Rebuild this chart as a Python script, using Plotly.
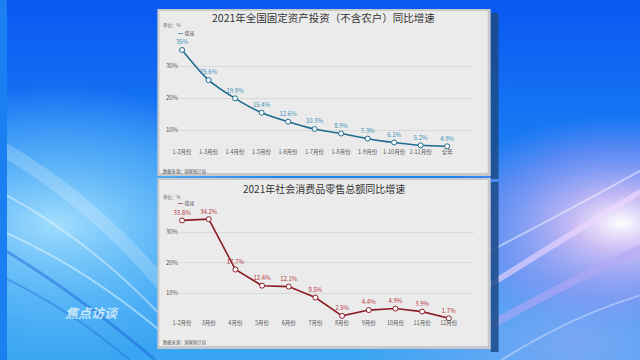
import base64
import plotly.graph_objects as go

# ---------------- data ----------------
inv_categories = ["1-2月份", "1-3月份", "1-4月份", "1-5月份", "1-6月份", "1-7月份",
                  "1-8月份", "1-9月份", "1-10月份", "1-11月份", "全年"]
inv_values = [35, 25.6, 19.9, 15.4, 12.6, 10.3, 8.9, 7.3, 6.1, 5.2, 4.9]

retail_categories = ["1-2月份", "3月份", "4月份", "5月份", "6月份", "7月份",
                     "8月份", "9月份", "10月份", "11月份", "12月份"]
retail_values = [33.8, 34.2, 17.7, 12.4, 12.1, 8.5, 2.5, 4.4, 4.9, 3.9, 1.7]

y_tick_values = [10, 20, 30]
y_tick_labels = ["10%", "20%", "30%"]

title_top = "2021年全国固定资产投资（不含农户）同比增速"
title_bottom = "2021年社会消费品零售总额同比增速"
series_name = "增速"
unit_text = "单位：%"
source_text = "数据来源：国家统计局"

W, H = 640, 360
FONT = "Noto Sans CJK SC, Noto Sans, sans-serif"
BLUE_LINE = "#1b6b8e"
BLUE_TEXT = "#3b91bb"
RED_LINE = "#8c1c25"
RED_TEXT = "#b8343c"


def px(x):
    return x / W


def py(y):
    return 1 - y / H


# ---------------- background (decorative) ----------------
svg = f"""<svg xmlns='http://www.w3.org/2000/svg' width='{W}' height='{H}' viewBox='0 0 {W} {H}'>
<defs>
<linearGradient id='g' x1='0' y1='0' x2='0' y2='1'>
<stop offset='0' stop-color='#0a58f2'/>
<stop offset='0.45' stop-color='#1a80f4'/>
<stop offset='1' stop-color='#3aa6f2'/>
</linearGradient>
<radialGradient id='c' cx='0.08' cy='0.62' r='0.38'>
<stop offset='0' stop-color='#b8ecff' stop-opacity='0.85'/>
<stop offset='0.6' stop-color='#7fd2fa' stop-opacity='0.45'/>
<stop offset='1' stop-color='#7fd2fa' stop-opacity='0'/>
</radialGradient>
<radialGradient id='p' cx='0.97' cy='0.62' r='0.3'>
<stop offset='0' stop-color='#ffffff' stop-opacity='1'/>
<stop offset='0.25' stop-color='#f0c8f5' stop-opacity='0.8'/>
<stop offset='0.7' stop-color='#a596f2' stop-opacity='0.45'/>
<stop offset='1' stop-color='#8c8cf0' stop-opacity='0'/>
</radialGradient>
<radialGradient id='q' cx='0.9' cy='0.95' r='0.35'>
<stop offset='0' stop-color='#8aa8f5' stop-opacity='0.8'/>
<stop offset='1' stop-color='#8aa8f5' stop-opacity='0'/>
</radialGradient>
</defs>
<rect width='{W}' height='{H}' fill='url(#g)'/>
<rect width='{W}' height='{H}' fill='url(#c)'/>
<rect width='{W}' height='{H}' fill='url(#q)'/>
<rect width='{W}' height='{H}' fill='url(#p)'/>
<path d='M -20 140 Q 90 200 170 300' stroke='#ffffff' stroke-opacity='0.2' stroke-width='14' fill='none'/>
<path d='M -20 185 Q 80 235 160 320' stroke='#ffffff' stroke-opacity='0.4' stroke-width='2' fill='none'/>
<path d='M -20 225 Q 70 260 160 335' stroke='#e8fbff' stroke-opacity='0.5' stroke-width='2' fill='none'/>
<path d='M -20 240 Q 60 285 150 360' stroke='#1a62d8' stroke-opacity='0.45' stroke-width='3' fill='none'/>
<path d='M -20 270 Q 60 305 130 365' stroke='#1a62d8' stroke-opacity='0.35' stroke-width='2' fill='none'/>
<path d='M 480 290 Q 560 240 660 180' stroke='#f2d8ff' stroke-opacity='0.6' stroke-width='6' fill='none'/>
<path d='M 480 255 Q 560 215 660 160' stroke='#ffffff' stroke-opacity='0.45' stroke-width='2' fill='none'/>
<path d='M 480 330 Q 570 280 660 240' stroke='#b7a8f5' stroke-opacity='0.55' stroke-width='8' fill='none'/>
<path d='M 500 360 Q 580 310 660 290' stroke='#cfe0ff' stroke-opacity='0.5' stroke-width='2' fill='none'/>
</svg>"""
bg_src = "data:image/svg+xml;base64," + base64.b64encode(svg.encode("utf-8")).decode("ascii")

fig = go.Figure()

# ---------------- traces ----------------
fig.add_trace(go.Scatter(
    x=inv_categories, y=inv_values, xaxis="x", yaxis="y",
    mode="lines+markers+text", name=series_name,
    line=dict(color=BLUE_LINE, width=1.5, shape="spline", smoothing=0.8),
    marker=dict(symbol="circle", size=5, color="#ffffff", line=dict(color=BLUE_LINE, width=1)),
    text=[f"{v:g}%" for v in inv_values], textposition="top center",
    textfont=dict(size=6, color=BLUE_TEXT, family=FONT),
    cliponaxis=False, showlegend=False, hoverinfo="skip",
))
fig.add_trace(go.Scatter(
    x=retail_categories, y=retail_values, xaxis="x2", yaxis="y2",
    mode="lines+markers+text", name=series_name,
    line=dict(color=RED_LINE, width=1.6),
    marker=dict(symbol="circle", size=5, color="#ffffff", line=dict(color=RED_LINE, width=1)),
    text=[f"{v:g}%" for v in retail_values], textposition="top center",
    textfont=dict(size=6, color=RED_TEXT, family=FONT),
    cliponaxis=False, showlegend=False, hoverinfo="skip",
))

# ---------------- axes ----------------
common_x = dict(type="category", showline=False, showgrid=False, zeroline=False, ticks="",
                tickfont=dict(size=5.5, color="#555555", family=FONT), fixedrange=True)
common_y = dict(showline=False, showgrid=True, gridcolor="#d9d9d9", gridwidth=0.8, zeroline=False,
                ticks="", tickvals=y_tick_values, ticktext=y_tick_labels,
                tickfont=dict(size=6, color="#555555", family=FONT), fixedrange=True)

xdom = [px(174), px(472)]
top_min, bot_min = 4.5, 1.3
fig.update_layout(
    xaxis=dict(common_x, domain=xdom, range=[-0.112, 11.007], anchor="y"),
    yaxis=dict(common_y, domain=[py(162 - 3.2 * top_min), py(40)],
               range=[top_min, (162 - 40) / 3.2], anchor="x"),
    xaxis2=dict(common_x, domain=xdom, range=[-0.111, 10.94], anchor="y2", ticklabelstandoff=-1),
    yaxis2=dict(common_y, domain=[py(323.5 - 3.05 * bot_min), py(210)],
                range=[bot_min, (323.5 - 210) / 3.05], anchor="x2"),
)

# ---------------- panels ----------------
shapes = []
for (y0, y1) in [(9, 176), (178, 349)]:
    shapes.append(dict(type="rect", xref="paper", yref="paper", layer="below",
                       x0=px(489), x1=px(497), y0=py(y0 + 4), y1=py(y1 + 3),
                       fillcolor="#1d4a86", opacity=0.85, line=dict(width=0)))
    shapes.append(dict(type="rect", xref="paper", yref="paper", layer="below",
                       x0=px(152), x1=px(489), y0=py(y0), y1=py(y1),
                       fillcolor="#c6c8cc", line=dict(width=0)))
    shapes.append(dict(type="rect", xref="paper", yref="paper", layer="below",
                       x0=px(154), x1=px(486), y0=py(y0 + 2), y1=py(y1 - 3),
                       fillcolor="#ebebeb", line=dict(width=0)))

# ---------------- annotations ----------------
ann = []


def text_ann(x, y, s, size, color, xanchor="left", **kw):
    ann.append(dict(xref="paper", yref="paper", x=px(x), y=py(y), text=s, showarrow=False,
                    xanchor=xanchor, yanchor="middle",
                    font=dict(size=size, color=color, family=FONT), **kw))


text_ann(320, 17, title_top, 10.5, "#333333", xanchor="center")
text_ann(320, 188, title_bottom, 10, "#333333", xanchor="center")
for (yu, yl, ys, col) in [(26, 32.5, 171.3, BLUE_LINE), (197, 203, 342.3, RED_LINE)]:
    text_ann(155.5, yu, unit_text, 4.5, "#666666")
    text_ann(171, yl, f"<span style='color:{col}'>━</span> {series_name}", 5, "#666666")
    text_ann(155.5, ys, source_text, 4.3, "#555555")

# logo text
ann.append(dict(xref="paper", yref="paper", x=px(86), y=py(312), text="<i><b>焦点访谈</b></i>",
                showarrow=False, xanchor="center", yanchor="middle",
                font=dict(size=13, color="rgba(255,255,255,0.7)", family=FONT)))

fig.update_layout(
    width=W, height=H, margin=dict(l=0, r=0, t=0, b=0),
    paper_bgcolor="#1a7ff0", plot_bgcolor="rgba(0,0,0,0)",
    font=dict(family=FONT),
    shapes=shapes, annotations=ann,
    images=[dict(source=bg_src, xref="paper", yref="paper", x=0, y=1, sizex=1, sizey=1,
                 xanchor="left", yanchor="top", sizing="stretch", layer="below")],
    showlegend=False,
)

fig.write_html("out.html", config={"displayModeBar": False},
               post_script="document.body.style.margin='0';document.body.style.overflow='hidden';")
